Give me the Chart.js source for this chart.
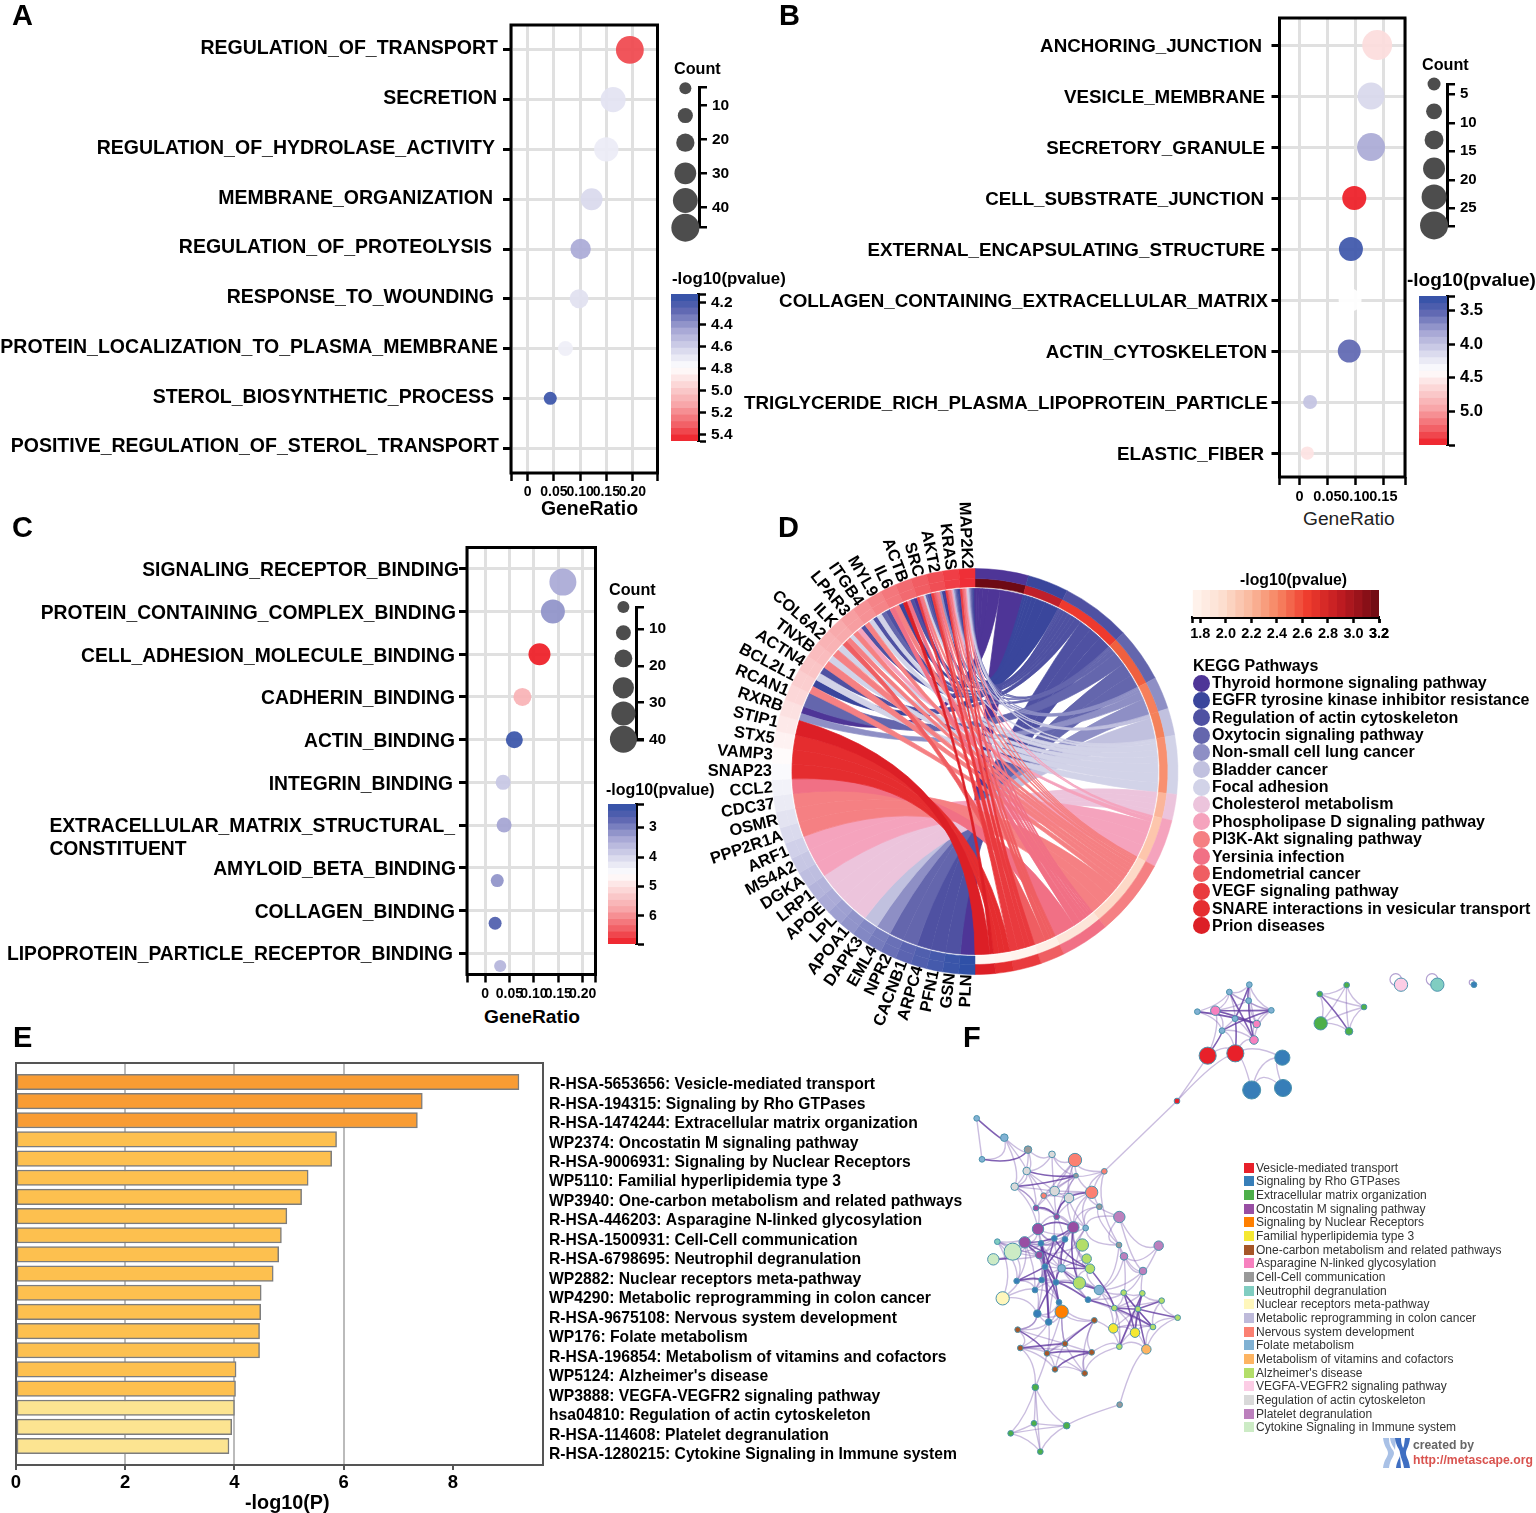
<!DOCTYPE html>
<html>
<head>
<meta charset="utf-8">
<title>Enrichment panels</title>
<script src="https://cdn.jsdelivr.net/npm/chart.js@4"></script>
<style>
  html, body { margin: 0; background: #fff; }
  #page { position: relative; width: 1536px; height: 1513px; overflow: hidden; font-family: "Liberation Sans", Arial, sans-serif; color: #000; }
  #page canvas { position: absolute; }
  .t { position: absolute; white-space: nowrap; line-height: 1; transform: translateY(-50%); }
  .s { position: absolute; }
</style>
</head>
<body>
<div id="page"></div>
<script>
// ---------- panel A ----------
const aLabels = ["REGULATION_OF_TRANSPORT", "SECRETION", "REGULATION_OF_HYDROLASE_ACTIVITY", "MEMBRANE_ORGANIZATION", "REGULATION_OF_PROTEOLYSIS", "RESPONSE_TO_WOUNDING", "PROTEIN_LOCALIZATION_TO_PLASMA_MEMBRANE", "STEROL_BIOSYNTHETIC_PROCESS", "POSITIVE_REGULATION_OF_STEROL_TRANSPORT"];
const aRatio = [0.195, 0.163, 0.15, 0.122, 0.101, 0.098, 0.072, 0.043, null];
const aCount = [43, 36, 34, 28, 24, 20, 10, 5, null];
const aP = [5.37, 4.67, 4.71, 4.63, 4.46, 4.66, 4.72, 4.15, null];
const aLabelEnd = [498, 497, 495, 493, 492, 494, 498, 494, 499];
const aCountLegend = [5, 13, 21, 30, 38, 46];
const aCountTicks = [10, 20, 30, 40];
const aPTicks = [4.2, 4.4, 4.6, 4.8, 5.0, 5.2, 5.4];

// ---------- panel B ----------
const bLabels = ["ANCHORING_JUNCTION", "VESICLE_MEMBRANE", "SECRETORY_GRANULE", "CELL_SUBSTRATE_JUNCTION", "EXTERNAL_ENCAPSULATING_STRUCTURE", "COLLAGEN_CONTAINING_EXTRACELLULAR_MATRIX", "ACTIN_CYTOSKELETON", "TRIGLYCERIDE_RICH_PLASMA_LIPOPROTEIN_PARTICLE", "ELASTIC_FIBER"];
const bRatio = [0.139, 0.128, 0.128, 0.098, 0.092, 0.0905, 0.089, 0.019, 0.014];
const bCount = [29.7, 24.7, 26.3, 19.8, 19.8, 18, 18, 3.2, 2];
const bP = [4.61, 4.12, 3.84, 5.5, 3.35, 4.39, 3.52, 3.99, 4.57];
const bLabelEnd = [1262, 1265, 1265, 1264, 1265, 1268, 1267, 1268, 1264];
const bCountLegend = [3.2, 8, 13, 18, 23, 28];
const bCountTicks = [5, 10, 15, 20, 25];
const bPTicks = [3.5, 4.0, 4.5, 5.0];

// ---------- panel C ----------
const cLabels = ["SIGNALING_RECEPTOR_BINDING", "PROTEIN_CONTAINING_COMPLEX_BINDING", "CELL_ADHESION_MOLECULE_BINDING", "CADHERIN_BINDING", "ACTIN_BINDING", "INTEGRIN_BINDING", ["EXTRACELLULAR_MATRIX_STRUCTURAL_", "CONSTITUENT"], "AMYLOID_BETA_BINDING", "COLLAGEN_BINDING", "LIPOPROTEIN_PARTICLE_RECEPTOR_BINDING"];
const cRatio = [0.1595, 0.139, 0.1115, 0.0765, 0.06, 0.037, 0.039, 0.025, 0.0206, 0.031];
const cCount = [37.6, 30.4, 25.6, 16, 13.6, 8.8, 8.8, 4, 4, 2];
const cP = [3.39, 3.15, 6.95, 5.6, 2.3, 3.77, 3.34, 3.15, 2.53, 3.53];
const cRow = [0.31, 1, 2, 3, 4, 5, 6, 7.3, 8.3, 9.3];
const cLabelEnd = [459, 456, 455, 455, 455, 453, 455, 456, 455, 453];
const cCountLegend = [4, 11, 18, 26, 33, 40];
const cCountTicks = [10, 20, 30, 40];
const cPTicks = [3, 4, 5, 6];

// ---------- panel D ----------
const genes = ["MAP2K2", "KRAS", "AKT2", "SRC", "ACTB", "IL6", "MYL9", "ITGB4", "LPAR3", "ILK", "COL6A2", "TNXB", "ACTN4", "BCL2L1", "RCAN1", "RXRB", "STIP1", "STX5", "VAMP3", "SNAP23", "CCL2", "CDC37", "OSMR", "PPP2R1A", "ARF1", "MS4A2", "DGKA", "LRP1", "APOE", "LPL", "APOA1", "DAPK3", "EML4", "NPR2", "CACNB1", "ARPC4", "PFN1", "GSN", "PLN"];
const pathways = ["Thyroid hormone signaling pathway", "EGFR tyrosine kinase inhibitor resistance", "Regulation of actin cytoskeleton", "Oxytocin signaling pathway", "Non-small cell lung cancer", "Bladder cancer", "Focal adhesion", "Cholesterol metabolism", "Phospholipase D signaling pathway", "PI3K-Akt signaling pathway", "Yersinia infection", "Endometrial cancer", "VEGF signaling pathway", "SNARE interactions in vesicular transport", "Prion diseases"];
const pathwaySpan = [15.3, 11.7, 20, 15.6, 9.3, 7.8, 16.8, 7.5, 13.8, 22.2, 14, 7, 8, 5.2, 5.8];
const pathwayColor = ["#4e3597", "#3a469c", "#4f51a2", "#6466ad", "#8e8fc5", "#c1c1df", "#d2d3e8", "#ecc4dc", "#f5a3bd", "#f58083", "#f17085", "#ef5e62", "#e93a3e", "#e52d2f", "#dc1f26"];
const pathwayHeat = ["#6e0a14", "#c0202a", "#ee3a2e", "#f0603f", "#f67f5b", "#f4815a", "#f89070", "#fbb59a", "#fdc6ac", "#fdd9c7", "#fde5d9", "#feeee5", "#fff3ed", "#fff5f0", "#fff7f3"];
// gene index -> pathway indexes it links to
const geneLinks = [
  [0, 1, 2, 3, 4, 5, 6, 8, 9, 10, 11, 12],
  [0, 1, 2, 3, 4, 5, 8, 9, 10, 11, 12],
  [0, 1, 4, 9, 10, 11, 12],
  [1, 2, 3, 6, 9, 10, 12],
  [0, 2, 10, 14],
  [1, 9, 10],
  [2, 3, 6],
  [2, 6, 9],
  [2, 8, 9],
  [6, 9, 11],
  [6, 9],
  [6, 9],
  [2, 6],
  [1, 9],
  [3],
  [0, 4],
  [14], [13], [13], [13],
  [10], [9], [9], [9],
  [8], [8], [8],
  [7], [7], [7], [7],
  [5], [4], [3], [3], [2], [2], [2], [0],
];
const heatTicks = [1.8, 2.0, 2.2, 2.4, 2.6, 2.8, 3.0, 3.2];

// ---------- panel E ----------
const eLabels = ["R-HSA-5653656: Vesicle-mediated transport", "R-HSA-194315: Signaling by Rho GTPases", "R-HSA-1474244: Extracellular matrix organization", "WP2374: Oncostatin M signaling pathway", "R-HSA-9006931: Signaling by Nuclear Receptors", "WP5110: Familial hyperlipidemia type 3", "WP3940: One-carbon metabolism and related pathways", "R-HSA-446203: Asparagine N-linked glycosylation", "R-HSA-1500931: Cell-Cell communication", "R-HSA-6798695: Neutrophil degranulation", "WP2882: Nuclear receptors meta-pathway", "WP4290: Metabolic reprogramming in colon cancer", "R-HSA-9675108: Nervous system development", "WP176: Folate metabolism", "R-HSA-196854: Metabolism of vitamins and cofactors", "WP5124: Alzheimer's disease", "WP3888: VEGFA-VEGFR2 signaling pathway", "hsa04810: Regulation of actin cytoskeleton", "R-HSA-114608: Platelet degranulation", "R-HSA-1280215: Cytokine Signaling in Immune system"];
const eValues = [9.21, 7.44, 7.35, 5.87, 5.78, 5.35, 5.23, 4.96, 4.86, 4.81, 4.71, 4.49, 4.48, 4.46, 4.46, 4.03, 4.02, 4.0, 3.95, 3.9];
const eTicks = [0, 2, 4, 6, 8];

// ---------- panel F ----------
const fTerms = ["Vesicle-mediated transport", "Signaling by Rho GTPases", "Extracellular matrix organization", "Oncostatin M signaling pathway", "Signaling by Nuclear Receptors", "Familial hyperlipidemia type 3", "One-carbon metabolism and related pathways", "Asparagine N-linked glycosylation", "Cell-Cell communication", "Neutrophil degranulation", "Nuclear receptors meta-pathway", "Metabolic reprogramming in colon cancer", "Nervous system development", "Folate metabolism", "Metabolism of vitamins and cofactors", "Alzheimer's disease", "VEGFA-VEGFR2 signaling pathway", "Regulation of actin cytoskeleton", "Platelet degranulation", "Cytokine Signaling in Immune system"];
const fColors = ["#e8202a", "#377eb8", "#4daf4a", "#984ea3", "#ff7f00", "#f5e832", "#a65628", "#f781bf", "#999999", "#80cdc1", "#fff7bc", "#bebada", "#fb8072", "#80b1d3", "#fdb462", "#b3de69", "#fccde5", "#d9d9d9", "#bc80bd", "#ccebc5"];
// node layout: [x, y, size, term]
const fNodes = [
  [50,385,3,13],[133,443,4,13],[66,508,3,13],[204,479,4,8],[276,493,3.5,17],[200,543,4,17],[164,590,4,17],[345,510,7,12],[433,544,3,12],[348,557,2.5,8],
  [395,607,6.5,12],[284,603,5,17],[327,624,5,17],[251,617,3,12],[418,650,3,8],[228,654,3,3],[290,680,3,3],[478,681,6,18],[234,717,6,3],[340,712,6,3],
  [377,714,3,13],[112,755,3,9],[194,757,6,3],[158,785,9,19],[100,808,6,19],[367,765,6.5,15],[477,765,3,8],[596,767,5,18],[283,745,3,1],[315,748,3,1],
  [243,760,3,1],[238,795,4,3],[380,806,5,15],[390,836,5,15],[492,799,4,18],[549,843,4,18],[255,830,3,1],[305,835,4,13],[170,873,3,1],[245,870,3,1],
  [288,877,3,1],[358,879,6.5,15],[225,900,3,1],[417,900,5,13],[384,929,3,1],[297,937,3,1],[128,925,7,10],[232,971,4,1],[266,996,3.5,1],[305,965,7,4],
  [491,908,3,15],[547,910,3,15],[605,932,3,15],[463,954,3,15],[534,957,3,15],[653,983,3,15],[460,1015,5,5],[525,1028,5,5],[579,1011,3,15],[478,1070,3,15],
  [559,1078,5,14],[173,1019,3,6],[181,1074,3,6],[403,991,3,6],[315,1061,3,6],[261,1090,3,6],[395,1087,3,6],[285,1138,3,6],[374,1150,3,6],[226,1192,3.5,2],
  [222,1300,3,2],[320,1307,3.5,2],[152,1330,3,2],[241,1385,3,2],[479,1244,3,8],[651,333,3,0],[743,197,9,0],[826,190,9,0],[967,203,8,1],[969,294,9,1],
  [875,300,9.5,1],[766,62,5,7],[712,65,3,13],[808,6,3,13],[868,-16,3,13],[866,32,3,13],[934,61,3,13],[825,86,3,13],[890,102,4,7],[786,122,3,13],
  [882,150,4.5,7],[1079,12,3,2],[1160,-15,3,2],[1212,51,3,2],[1082,100,7,2],[1167,124,4,2],[1323,-16,7,16],[1432,-16,7,9],[1542,-16,3,1],
];
const fStrong = [[81,86],[83,90],[84,87],[84,85],[89,86],[88,81],[88,82],[76,89],[77,87],[85,90],[91,95],[0,1],[2,3],[6,9],[5,9],[12,10],[15,16],[16,12],[18,19],[19,22],[23,24],[22,31],[31,30],[30,36],[28,36],[29,36],[29,37],[30,40],[36,40],[37,40],[38,39],[38,36],[40,45],[36,45],[48,30],[48,36],[47,40],[43,40],[44,40],[44,53],[41,37],[41,19],[33,37],[33,53],[33,28],[33,22],[53,54],[55,54],[53,58],[50,57],[50,58],[51,57],[51,59],[54,60],[52,54],[63,64],[65,66],[66,67],[61,65],[62,64]];
const fWeak = [[82,83],[82,89],[83,84],[83,85],[81,83],[81,89],[84,86],[85,86],[86,88],[88,90],[89,90],[77,89],[77,90],[76,81],[76,77],[76,75],[77,75],[77,78],[77,80],[78,79],[78,80],[79,80],[81,87],[87,89],[83,87],[85,88],[86,90],[81,85],[83,86],[84,88],[82,87],[87,88],[87,90],
  [91,92],[92,93],[93,95],[95,94],[94,91],[91,93],[92,94],[93,94],[92,95],[75,8],[0,2],[1,2],[1,3],[1,5],[1,6],[3,4],[3,5],[3,6],[4,5],[5,6],[4,7],[7,9],[7,8],[7,10],[5,11],[6,11],[4,11],[4,9],[9,11],[9,13],[11,12],[12,13],[13,10],[11,10],[9,12],[9,8],[8,10],[8,14],[10,14],[13,15],[16,19],[16,18],[15,18],[15,6],[12,19],[10,20],[8,26],[14,26],[20,26],[17,26],[17,35],[17,27],[27,35],[34,27],[34,35],[26,34],[20,18],[19,20],[18,22],[18,28],[19,28],[19,29],[22,29],[22,30],[23,22],[21,22],[21,23],[21,38],[21,46],[38,46],[23,31],[31,36],[36,39],[31,37],[38,40],[38,42],[39,42],[42,47],[42,45],[47,36],[47,46],[45,49],[49,48],[49,47],[43,44],[43,41],[25,19],[25,32],[32,33],[33,41],[32,37],[25,31],[34,43],[35,43],[43,50],[44,50],[50,54],[51,54],[52,55],[55,58],[53,56],[56,59],[57,59],[58,60],[57,60],[56,57],[54,56],[54,59],[44,58],[60,74],[74,71],[59,68],[49,63],[63,66],[63,68],[63,65],[64,65],[64,66],[65,67],[64,67],[64,68],[66,68],[67,68],[61,62],[61,47],[62,65],[62,67],[61,48],[62,48],[64,49],[65,68],[69,62],[69,65],[69,70],[69,71],[69,72],[69,73],[70,71],[70,72],[70,73],[71,72],[71,73],[72,73],
  [6,15],[6,18],[5,13],[5,15],[11,15],[11,16],[12,16],[9,16],[12,20],[13,16],[7,13],[7,11],[7,12],[10,16],[10,19],[14,20],[14,19],[15,19],[16,28],[16,29],[18,28],[18,30],[18,31],[19,31],[19,36],[22,28],[22,36],[22,38],[22,42],[21,31],[21,18],[23,30],[23,38],[24,31],[24,22],[28,29],[28,30],[28,31],[28,37],[29,30],[29,40],[30,37],[30,39],[31,39],[31,40],[36,37],[36,42],[37,39],[39,40],[39,45],[40,42],[42,46],[40,48],[45,47],[45,48],[47,48],[37,43],[37,44],[40,41],[41,43],[41,44],[33,43],[20,37],[20,25],[32,19],[33,19],[25,41],[17,20],[17,14],[26,35],[26,43],[35,50],[34,50],[35,51],[43,53],[43,56],[50,51],[50,53],[51,52],[51,53],[52,53],[53,57],[53,59],[54,57],[54,58],[55,60],[52,58],[56,58],[57,58],[59,60],[59,66],[49,64],[49,65],[48,65],[47,61],[45,63],[63,59],[61,64],[62,66]];
const fLoops = [96, 97, 98];
const fHubs = [[845,65],[1138,55],[270,600],[270,830],[520,960],[290,1060],[230,1310]];

// ---------- helpers ----------
Chart.defaults.font.family = '"Liberation Sans", Arial, sans-serif';
Chart.defaults.color = "#000";
Chart.defaults.animation = false;
Chart.defaults.plugins.legend.display = false;
Chart.defaults.plugins.tooltip.enabled = false;
Chart.defaults.responsive = false;

const page = document.getElementById("page");

function addCanvas(l, t, w, h) {
  const c = document.createElement("canvas");
  c.width = w; c.height = h;
  c.style.left = l + "px"; c.style.top = t + "px";
  page.appendChild(c);
  return c.getContext("2d");
}

function text(str, x, y, font, opts) {
  const d = document.createElement("div");
  d.className = "t";
  d.textContent = str;
  d.style.left = x + "px"; d.style.top = y + "px"; d.style.font = font;
  d.style.lineHeight = "1";
  if (opts && opts.color) d.style.color = opts.color;
  page.appendChild(d);
}

function swatch(x, y, w, h, color, round) {
  const d = document.createElement("div");
  d.className = "s";
  d.style.cssText = `left:${x}px;top:${y}px;width:${w}px;height:${h}px;background:${color};` + (round ? "border-radius:50%;" : "");
  page.appendChild(d);
}

// the axis keeps the exact box it was given, tick text may overhang
function noPad(s) {
  s.paddingTop = s.paddingBottom = s.paddingLeft = s.paddingRight = 0;
}

function lerpStops(stops, t, alpha) {
  t = Math.max(0, Math.min(1, t));
  let i = 0;
  while (i < stops.length - 2 && t > stops[i + 1][0]) i++;
  const a = stops[i], b = stops[i + 1], f = (t - a[0]) / (b[0] - a[0]);
  const c = a[1].map((v, k) => Math.round(v + (b[1][k] - v) * f));
  return `rgba(${c[0]},${c[1]},${c[2]},${alpha === undefined ? 1 : alpha})`;
}

// blue - white - red ramp of the dot plots
const rampStops = [[0, [47, 80, 167]], [0.1, [90, 99, 176]], [0.25, [169, 169, 214]], [0.4, [224, 224, 240]], [0.5, [255, 255, 255]], [0.6, [252, 220, 220]], [0.75, [248, 166, 169]], [0.9, [241, 90, 96]], [1, [238, 28, 37]]];
const ramp = (t, alpha) => lerpStops(rampStops, t, alpha);

const heatStops = [[0, [255, 245, 240]], [0.15, [253, 224, 210]], [0.3, [250, 187, 160]], [0.45, [247, 135, 100]], [0.62, [238, 58, 44]], [0.78, [195, 28, 34]], [0.9, [150, 18, 26]], [1, [105, 10, 18]]];
const heat = (t) => lerpStops(heatStops, t);

const framePlugin = {
  id: "frame",
  afterDatasetsDraw(chart, args, o) {
    if (!o.width) return;
    const a = chart.chartArea, ctx = chart.ctx;
    ctx.save();
    ctx.strokeStyle = o.color; ctx.lineWidth = o.width;
    ctx.strokeRect(a.left, a.top, a.right - a.left, a.bottom - a.top);
    ctx.restore();
  },
};

// row names of the dot plots, each ends where the figure ends it
const rowLabelPlugin = {
  id: "rowLabels",
  afterDraw(chart, args, o) {
    if (!o.labels) return;
    const ctx = chart.ctx, y = chart.scales.y;
    ctx.save();
    ctx.font = o.font; ctx.fillStyle = "#000"; ctx.textBaseline = "middle";
    o.labels.forEach((label, i) => {
      const py = y.getPixelForValue(i) + (o.shift || 0);
      const lines = Array.isArray(label) ? label : [label];
      const start = o.ends[i] - o.left - ctx.measureText(lines[0]).width;
      lines.forEach((s, k) => ctx.fillText(s, start, py + k * 23));
    });
    ctx.restore();
  },
};

function dotPlot(o) {
  const [l, t, w, h] = o.box, [pl, pt, pr, pb] = o.plot;
  const n = o.labels.length, yOff = o.yOff || 0;
  const pts = [], cols = [];
  o.ratio.forEach((x, i) => {
    if (x === null) return;
    pts.push({ x, y: o.row ? o.row[i] : i, r: o.radius(o.count[i]) + 0.5 });
    cols.push(ramp((o.p[i] - o.pMin) / (o.pMax - o.pMin), 0.92));
  });
  new Chart(addCanvas(l, t, w, h), {
    type: "bubble",
    data: { datasets: [{ data: pts, backgroundColor: cols, borderWidth: 0 }] },
    options: {
      layout: { autoPadding: false, padding: { top: pt - t, right: l + w - pr, left: 0, bottom: 0 } },
      plugins: {
        frame: { color: "#000", width: 3 },
        rowLabels: { labels: o.labels, ends: o.ends, left: l, font: o.font, shift: o.shift },
      },
      scales: {
        x: {
          type: "linear", min: o.xMin, max: o.xMax,
          afterFit: (s) => { s.height = t + h - pb; noPad(s); },
          afterBuildTicks: (s) => { s.ticks = [o.xMin, 0, 0.05, 0.1, 0.15].concat(o.xTop ? [o.xTop] : [], [o.xMax]).map((v) => ({ value: v })); },
          ticks: {
            autoSkip: false, maxRotation: 0, padding: 3,
            font: { size: o.tickSize, weight: "bold" },
            callback: (v) => (v === o.xMin || v === o.xMax ? "" : v === 0 ? "0" : v.toFixed(2)),
          },
          grid: { color: "#e0e0e0", lineWidth: 3, tickColor: "#000", tickWidth: 2.5, tickLength: 8 },
          border: { display: false },
        },
        y: {
          type: "linear", reverse: true, min: -0.5 - yOff, max: n - 0.5 - yOff,
          afterFit: (s) => { s.width = pl - l; noPad(s); },
          afterBuildTicks: (s) => { s.ticks = o.labels.map((_, i) => ({ value: i })); },
          ticks: { display: false },
          grid: { color: "#e0e0e0", lineWidth: 3, tickColor: "#000", tickWidth: 3, tickLength: 8 },
          border: { display: false },
        },
      },
    },
    plugins: [framePlugin, rowLabelPlugin],
  });
}

// size key: grey dots next to a black count axis
function countKey(o) {
  const [l, t, w, h] = o.box;
  const left = o.axisX - 40;
  new Chart(addCanvas(l, t, w, h), {
    type: "bubble",
    data: { datasets: [{ data: o.values.map((v) => ({ x: o.dotX - left, y: v, r: o.radius(v) })), backgroundColor: "#4d4d4d", borderWidth: 0, clip: false }] },
    options: {
      layout: { autoPadding: false, padding: { top: o.top - t, bottom: t + h - o.bottom, left: left - l, right: 0 } },
      scales: {
        x: { type: "linear", min: 0, max: 40, display: false },
        y: {
          type: "linear", position: "right", reverse: true, min: o.min, max: o.max,
          afterFit: (s) => { s.width = l + w - o.axisX; noPad(s); },
          afterBuildTicks: (s) => { s.ticks = [o.min].concat(o.ticks, [o.max]).map((v) => ({ value: v })); },
          ticks: { autoSkip: false, padding: 5, font: { size: o.size, weight: "bold" }, callback: (v) => (o.ticks.includes(v) ? String(v) : "") },
          grid: { drawOnChartArea: false, color: "#000", tickColor: "#000", lineWidth: 2.5, tickLength: 8 },
          border: { color: "#000", width: 3 },
        },
      },
    },
  });
}

// colour key: stack of thin floating bars on a value axis
function colorKey(o) {
  const [l, t, w, h] = o.box;
  const steps = o.steps || 22, sets = [];
  for (let i = 0; i < steps; i++) {
    const lo = o.min + (o.max - o.min) * i / steps, hi = o.min + (o.max - o.min) * (i + 1) / steps;
    sets.push({ data: [[lo, hi]], backgroundColor: o.color((i + 0.5) / steps), grouped: false, barPercentage: 1, categoryPercentage: 1, borderWidth: 0 });
  }
  const fmt = (v) => v.toFixed(o.decimals);
  const isTick = (v) => o.ticks.some((x) => Math.abs(x - v) < 1e-6);
  const valueAxis = {
    type: "linear", min: o.min, max: o.max,
    afterBuildTicks: (s) => { s.ticks = [o.min].concat(o.ticks, [o.max]).map((v) => ({ value: v })); },
    ticks: { autoSkip: false, maxRotation: 0, padding: o.horizontal ? 2 : 5, font: { size: o.size, weight: "bold" }, callback: (v) => (isTick(v) ? fmt(v) : "") },
    grid: { drawOnChartArea: false, color: "#000", tickColor: "#000", tickWidth: 2.5, tickLength: o.horizontal ? 6 : 8 },
    border: { color: "#000", width: 3 },
  };
  if (o.horizontal) {
    valueAxis.afterFit = (s) => { s.height = t + h - o.bottom; noPad(s); };
    new Chart(addCanvas(l, t, w, h), {
      type: "bar",
      data: { labels: ["key"], datasets: sets },
      options: {
        indexAxis: "y",
        layout: { autoPadding: false, padding: { top: o.top - t, left: o.left - l, right: l + w - o.right, bottom: 0 } },
        scales: { x: valueAxis, y: { display: false } },
      },
    });
  } else {
    valueAxis.reverse = true;
    valueAxis.position = "right";
    valueAxis.afterFit = (s) => { s.width = l + w - o.right; noPad(s); };
    new Chart(addCanvas(l, t, w, h), {
      type: "bar",
      data: { labels: ["key"], datasets: sets },
      options: {
        layout: { autoPadding: false, padding: { top: o.top - t, bottom: t + h - o.bottom, left: o.left - l, right: 0 } },
        scales: { x: { display: false }, y: valueAxis },
      },
    });
  }
}

// ---------- A ----------
dotPlot({
  box: [0, 10, 670, 500], plot: [511, 25, 657.5, 473], labels: aLabels, ends: aLabelEnd, ratio: aRatio, count: aCount, p: aP,
  radius: (c) => 6 + (c - 5) * 0.195, pMin: 4.12, pMax: 5.46, xMin: -0.032, xMax: 0.2478, xTop: 0.2,
  font: 'bold 19.5px "Liberation Sans"', shift: -1, tickSize: 14,
});
text("GeneRatio", 541, 509, 'bold 19.4px "Liberation Sans"');
countKey({ box: [660, 70, 85, 180], axisX: 699, dotX: 685, top: 87, bottom: 227, min: 4.6, max: 45.8, values: aCountLegend, ticks: aCountTicks, radius: (c) => 6 + (c - 5) * 0.195, size: 15.5 });
colorKey({ box: [660, 285, 90, 165], left: 671, right: 698, top: 294, bottom: 441, min: 4.12, max: 5.46, ticks: aPTicks, decimals: 1, size: 15.5, color: (t) => ramp(t) });
text("Count", 674, 68, 'bold 16.2px "Liberation Sans"');
text("-log10(pvalue)", 672, 279, 'bold 16.8px "Liberation Sans"');

// ---------- B ----------
dotPlot({
  box: [700, 5, 720, 500], plot: [1279.5, 18, 1405, 477], labels: bLabels, ends: bLabelEnd, ratio: bRatio, count: bCount, p: bP,
  radius: (c) => 6.5 + (c - 3.2) * 0.302, pMin: 3.28, pMax: 5.5, xMin: -0.0357, xMax: 0.1887, yOff: 0.03,
  font: 'bold 18.75px "Liberation Sans"', shift: 1.5, tickSize: 14.5,
});
text("GeneRatio", 1303, 519, '19.2px "Liberation Sans"', { color: "#222" });
countKey({ box: [1410, 70, 70, 170], axisX: 1447, dotX: 1433, top: 84, bottom: 226, min: 3.2, max: 28.1, values: bCountLegend, ticks: bCountTicks, radius: (c) => 6.5 + (c - 3.2) * 0.302, size: 15 });
colorKey({ box: [1410, 288, 90, 165], left: 1419, right: 1447, top: 296, bottom: 445, min: 3.28, max: 5.5, ticks: bPTicks, decimals: 1, size: 16.5, color: (t) => ramp(t) });
text("Count", 1422, 64, 'bold 16.2px "Liberation Sans"');
text("-log10(pvalue)", 1407, 279, 'bold 19px "Liberation Sans"');

// ---------- C ----------
dotPlot({
  box: [0, 535, 610, 470], plot: [467, 547.5, 595.5, 974.5], labels: cLabels, ends: cLabelEnd, ratio: cRatio, count: cCount, p: cP, row: cRow,
  radius: (c) => 6 + (c - 4) * 0.208, pMin: 2.2, pMax: 6.95, xMin: -0.037, xMax: 0.2263, xTop: 0.2,
  font: 'bold 19.3px "Liberation Sans"', shift: 2, tickSize: 14,
});
text("GeneRatio", 484, 1017, 'bold 19.2px "Liberation Sans"');
countKey({ box: [600, 590, 85, 170], axisX: 636, dotX: 622, top: 607, bottom: 740, min: 4, max: 40.2, values: cCountLegend, ticks: cCountTicks, radius: (c) => 6 + (c - 4) * 0.208, size: 15.5 });
colorKey({ box: [600, 795, 70, 160], left: 608, right: 636, top: 804, bottom: 944, min: 2.2, max: 6.95, ticks: cPTicks, decimals: 0, size: 14, color: (t) => ramp(t) });
text("Count", 609, 589, 'bold 16.2px "Liberation Sans"');
text("-log10(pvalue)", 606, 790, 'bold 16px "Liberation Sans"');

// ---------- D ----------
const chordPlugin = {
  id: "chord",
  beforeDatasetsDraw(chart) {
    const ctx = chart.ctx, arcs = chart.getDatasetMeta(0).data;
    const cx = arcs[0].x, cy = arcs[0].y, R = 183;
    const geneSlice = (g) => arcs[pathways.length + genes.length - 1 - g];
    // gene names sit behind the ring, reading towards the centre
    ctx.save();
    ctx.font = 'bold 16.5px "Liberation Sans"'; ctx.fillStyle = "#000"; ctx.textAlign = "right"; ctx.textBaseline = "middle";
    genes.forEach((name, g) => {
      const s = geneSlice(g), a = (s.startAngle + s.endAngle) / 2;
      ctx.save();
      ctx.translate(cx + 203 * Math.cos(a), cy + 203 * Math.sin(a));
      ctx.rotate(a + Math.PI);
      ctx.fillText(name, 0, 0);
      ctx.restore();
    });
    ctx.restore();

    // share of each link on both ends
    const links = [];
    geneLinks.forEach((ps, g) => ps.forEach((p) => links.push({ g, p, w: 1 / ps.length })));
    const sum = pathways.map((_, p) => links.filter((k) => k.p === p).reduce((a, k) => a + k.w, 0));
    pathways.forEach((_, p) => {
      let at = arcs[p].startAngle;
      const span = arcs[p].endAngle - arcs[p].startAngle;
      links.filter((k) => k.p === p).sort((a, b) => a.g - b.g).forEach((k) => {
        k.p0 = at; at += span * k.w / sum[p]; k.p1 = at;
      });
    });
    genes.forEach((_, g) => {
      const s = geneSlice(g);
      let at = s.startAngle;
      links.filter((k) => k.g === g).sort((a, b) => b.p - a.p).forEach((k) => {
        k.g0 = at; at += (s.endAngle - s.startAngle) * k.w; k.g1 = at;
      });
    });
    ctx.save();
    ctx.lineWidth = 0.7;
    links.slice().sort((a, b) => a.p - b.p).forEach((k) => {
      ctx.beginPath();
      ctx.arc(cx, cy, R, k.g0, k.g1);
      ctx.quadraticCurveTo(cx, cy, cx + R * Math.cos(k.p0), cy + R * Math.sin(k.p0));
      ctx.arc(cx, cy, R, k.p0, k.p1);
      ctx.quadraticCurveTo(cx, cy, cx + R * Math.cos(k.g0), cy + R * Math.sin(k.g0));
      ctx.closePath();
      ctx.fillStyle = pathwayColor[k.p];
      ctx.strokeStyle = pathwayColor[k.p];
      ctx.fill();
      ctx.stroke();
    });
    ctx.restore();
  },
};
const geneColors = genes.map((_, g) => ramp(0.97 - 0.97 * g / (genes.length - 1))).reverse();
const geneSpan = genes.map(() => 180 / genes.length);
const outerRing = pathwayColor.concat(geneColors), innerRing = pathwayHeat.concat(geneColors);
new Chart(addCanvas(705, 501, 540, 541), {
  type: "doughnut",
  data: {
    labels: pathways.concat(genes.slice().reverse()),
    datasets: [
      { data: pathwaySpan.concat(geneSpan), backgroundColor: outerRing, borderColor: outerRing, borderWidth: 0.5, weight: 10 },
      { data: pathwaySpan.concat(geneSpan), backgroundColor: innerRing, borderColor: innerRing, borderWidth: 0.5, weight: 8.5 },
    ],
  },
  options: { radius: 203, cutout: "90.9%", layout: { padding: 0 } },
  plugins: [chordPlugin],
});
colorKey({ box: [1185, 585, 215, 60], left: 1192.7, right: 1379, top: 590, bottom: 617, min: 1.74, max: 3.2, ticks: heatTicks, decimals: 1, size: 14.5, horizontal: true, color: heat, steps: 22 });
text("-log10(pvalue)", 1240, 580, 'bold 15.8px "Liberation Sans"');
text("KEGG Pathways", 1193, 665.5, 'bold 16px "Liberation Sans"');
pathways.forEach((name, i) => {
  const y = 683 + i * 17.35;
  swatch(1192.5, y - 8.5, 17, 17, pathwayColor[i], true);
  text(name, 1212, y, 'bold 16px "Liberation Sans"');
});

// ---------- E ----------
new Chart(addCanvas(0, 1050, 1000, 463), {
  type: "bar",
  data: {
    datasets: [{
      data: eValues.map((v, i) => ({ x: v, y: i })),
      backgroundColor: eValues.map((v, i) => (i < 3 ? "#f99c33" : i < 17 ? "#fdc04f" : "#fce491")),
      borderColor: "#7d7d7d", borderWidth: 1.5, borderSkipped: false, barThickness: 15.5,
    }],
  },
  options: {
    indexAxis: "y",
    layout: { autoPadding: false, padding: { top: 13, left: 16, right: 0, bottom: 0 } },
    plugins: { frame: { color: "#555", width: 2 } },
    scales: {
      x: {
        type: "linear", min: 0, max: 9.65,
        afterFit: (s) => { s.height = 48; noPad(s); },
        afterBuildTicks: (s) => { s.ticks = eTicks.map((v) => ({ value: v })); },
        ticks: { autoSkip: false, maxRotation: 0, padding: 2, font: { size: 18.5, weight: "bold" } },
        grid: { color: (c) => ([2, 4, 6].includes(c.tick.value) ? "#bbbbbb" : "transparent"), lineWidth: 2, tickColor: "#555", tickWidth: 2, tickLength: 5 },
        border: { display: false },
      },
      y: { type: "linear", reverse: true, min: -0.99, max: 19.99, offset: false, display: false },
      names: {
        type: "linear", position: "right", reverse: true, min: -1.12, max: 19.53, offset: false,
        afterFit: (s) => { s.width = 1000 - 543; noPad(s); },
        afterBuildTicks: (s) => { s.ticks = eLabels.map((_, i) => ({ value: i })); },
        ticks: { autoSkip: false, padding: 6, font: { size: 15.7, weight: "bold" }, callback: (v) => eLabels[v] },
        grid: { drawOnChartArea: false, drawTicks: false },
        border: { display: false },
      },
    },
  },
  plugins: [framePlugin],
});
text("-log10(P)", 245, 1503, 'bold 19.8px "Liberation Sans"');

// ---------- F ----------
const edgePlugin = {
  id: "edges",
  beforeDatasetsDraw(chart) {
    const ctx = chart.ctx, sx = chart.scales.x, sy = chart.scales.y;
    const drawEdge = ([a, b]) => {
      const p = fNodes[a], q = fNodes[b];
      let mx = (p[0] + q[0]) / 2, my = (p[1] + q[1]) / 2;
      let best = null, bd = 1e9;
      fHubs.forEach((h) => { const d = Math.hypot(h[0] - mx, h[1] - my); if (d < bd) { bd = d; best = h; } });
      if (bd < 260 && Math.hypot(p[0] - q[0], p[1] - q[1]) < 320) { mx += (best[0] - mx) * 0.3; my += (best[1] - my) * 0.3; }
      ctx.beginPath();
      ctx.moveTo(sx.getPixelForValue(p[0]), sy.getPixelForValue(p[1]));
      ctx.quadraticCurveTo(sx.getPixelForValue(mx), sy.getPixelForValue(my), sx.getPixelForValue(q[0]), sy.getPixelForValue(q[1]));
      ctx.stroke();
    };
    ctx.save();
    ctx.strokeStyle = "rgba(128,98,178,0.42)"; ctx.lineWidth = 1.4;
    fWeak.forEach(drawEdge);
    ctx.strokeStyle = "rgba(98,58,160,0.8)"; ctx.lineWidth = 1.6;
    fStrong.forEach(drawEdge);
    ctx.strokeStyle = "rgba(128,98,178,0.6)"; ctx.lineWidth = 1.2;
    fLoops.forEach((i) => {
      const n = fNodes[i], r = n[2] * 0.75;
      ctx.beginPath();
      ctx.arc(sx.getPixelForValue(n[0]) - r, sy.getPixelForValue(n[1]) - r, r * 1.1, 0, Math.PI * 2);
      ctx.stroke();
    });
    ctx.restore();
  },
};
new Chart(addCanvas(960, 970, 600, 500), {
  type: "scatter",
  data: {
    datasets: [{
      data: fNodes.map((n) => ({ x: n[0], y: n[1] })),
      pointRadius: fNodes.map((n) => n[2] * 0.95),
      pointBackgroundColor: fNodes.map((n) => fColors[n[3]]),
      pointBorderColor: "#4c93ad", pointBorderWidth: 1,
      clip: false,
    }],
  },
  options: {
    layout: { padding: 0, autoPadding: false },
    scales: {
      x: { type: "linear", min: 0, max: 1800, display: false },
      y: { type: "linear", reverse: true, min: -60, max: 1440, display: false },
    },
  },
  plugins: [edgePlugin],
});
fTerms.forEach((name, i) => {
  const y = 1167.5 + i * 13.68;
  swatch(1244, y - 5, 10, 10, fColors[i]);
  text(name, 1256, y, '12px "Liberation Sans"', { color: "#333" });
});
text("created by", 1413, 1445, 'bold 12.2px "Liberation Sans"', { color: "#666" });
text("http://metascape.org", 1413, 1459.5, 'bold 12.2px "Liberation Sans"', { color: "#d9534f" });
const logo = document.createElementNS("http://www.w3.org/2000/svg", "svg");
logo.setAttribute("width", 30); logo.setAttribute("height", 32);
logo.style.cssText = "position:absolute;left:1381px;top:1437px";
logo.innerHTML = '<path d="M2 1 L8 1 C8 12 13 12 13 16 C13 20 9 22 8 31 L2 31 C3 22 7 20 7 16 C7 12 3 10 2 1 Z M15 1 L9 1 C10 8 13 10 14 13 Z" fill="#a9c1e6"/><path d="M14 1 L20 1 C20 8 22 10 22 11 C23 10 23 8 24 1 L29 1 C28 10 25 12 25 16 C25 20 28 22 29 31 L23 31 C22 24 20 22 19 16 C19 12 15 10 14 1 Z M15 31 C16 24 18 22 19 19 L20 31 Z" fill="#3f6fc2"/>';
page.appendChild(logo);

// ---------- panel letters ----------
[["A", 12, 15], ["B", 779, 15], ["C", 12, 527], ["D", 778, 527], ["E", 13, 1037], ["F", 963, 1037]].forEach(([s, x, y]) => {
  text(s, x, y, 'bold 29px "Liberation Sans"');
});
</script>
</body>
</html>
